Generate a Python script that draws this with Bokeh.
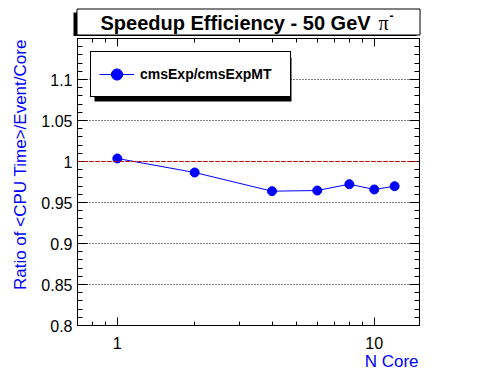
import math
from bokeh.plotting import figure
from bokeh.layouts import column, row
from bokeh.models import (Range1d, FixedTicker, LogAxis, LinearAxis, Span, Label,
                          BoxAnnotation, Legend, LegendItem, Title)
from bokeh.embed import file_html
from bokeh.resources import INLINE

# ---- data ----
n_core = [1, 2, 4, 6, 8, 10, 12]
ratio = [1.0037, 0.9866, 0.9638, 0.9646, 0.9723, 0.9659, 0.9699]
series_name = "cmsExp/cmsExpMT"
title_text = "Speedup Efficiency - 50 GeV"
title_particle = "\u03c0"
title_charge = "-"
x_title = "N Core"
y_title = "Ratio of <CPU Time>/Event/Core"
x_ticks = [1, 10]
x_tick_labels = ["1", "10"]
x_minor_ticks = [0.8, 0.9, 2, 3, 4, 5, 6, 7, 8, 9]
y_ticks = [0.8, 0.85, 0.9, 0.95, 1.0, 1.05, 1.1]
y_tick_labels = ["0.8", "0.85", "0.9", "0.95", "1", "1.05", "1.1"]
y_minor_ticks = [round(0.8 + 0.01 * i, 2) for i in range(36)]
reference_level = 1.0

FONT = "Liberation Sans"
BLUE = "#0000ff"
W, H = 496, 372
TOP_H = 36      # height of the title strip
LEFT_W = 30     # width of the y-title strip


def blank_figure(width, height):
    f = figure(width=width, height=height, x_range=Range1d(0, width), y_range=Range1d(0, height),
               x_axis_location=None, y_axis_location=None, toolbar_location=None,
               output_backend="svg", min_border=0, outline_line_color=None,
               background_fill_color="white", border_fill_color="white")
    f.grid.visible = False
    return f


# ---- title strip (pixel coordinates, y measured from strip bottom) ----
t = blank_figure(W, TOP_H)
t.add_layout(BoxAnnotation(left=73, right=416, bottom=0, top=24,
                           fill_color="black", fill_alpha=1, line_color=None))
t.add_layout(BoxAnnotation(left=76.5, right=419.5, bottom=1.5, top=27.5,
                           fill_color="white", fill_alpha=1,
                           line_color="black", line_width=1, line_alpha=1))
t.add_layout(Label(x=100, y=14, text=title_text,
                   text_font=FONT, text_font_style="bold", text_font_size="20px",
                   text_color="black", text_align="left", text_baseline="alphabetic"))
t.add_layout(Label(x=378, y=14, text=title_particle,
                   text_font="Liberation Serif", text_font_size="20px",
                   text_color="black", text_align="left", text_baseline="alphabetic"))
t.add_layout(Label(x=389, y=21, text=title_charge,
                   text_font=FONT, text_font_style="bold", text_font_size="12px",
                   text_color="black", text_align="left", text_baseline="alphabetic"))

# ---- y-title strip ----
MAIN_H = H - TOP_H
l = blank_figure(LEFT_W, MAIN_H)
l.add_layout(Label(x=19.5, y=MAIN_H - 1, text=y_title, angle=math.pi / 2,
                   text_font=FONT, text_font_size="17px", text_color=BLUE,
                   text_align="right", text_baseline="alphabetic"))

# ---- main plot ----
p = figure(width=W - LEFT_W, height=MAIN_H, x_axis_type="log",
           x_range=Range1d(0.7, 15), y_range=Range1d(0.8, 1.15),
           output_backend="svg", toolbar_location=None,
           min_border_left=77 - LEFT_W, min_border_right=77,
           min_border_top=38 - TOP_H, min_border_bottom=47,
           background_fill_color="white", border_fill_color="white",
           outline_line_color="black")

p.xgrid.visible = False
p.ygrid.ticker = FixedTicker(ticks=y_ticks)
p.ygrid.grid_line_color = "black"
p.ygrid.grid_line_dash = "1 2"
p.ygrid.grid_line_width = 1


def style_axis(ax, major_in, minor_in, font_size="16px"):
    ax.axis_line_color = "black"
    ax.axis_line_width = 1
    ax.major_tick_in = major_in
    ax.major_tick_out = 0
    ax.minor_tick_in = minor_in
    ax.minor_tick_out = 0
    ax.major_tick_line_color = "black"
    ax.minor_tick_line_color = "black"
    ax.major_label_text_font = FONT
    ax.major_label_text_font_size = font_size
    ax.major_label_text_color = "black"


xax = p.xaxis[0]
xax.ticker = FixedTicker(ticks=x_ticks, minor_ticks=x_minor_ticks)
xax.major_label_overrides = dict(zip(x_ticks, x_tick_labels))
style_axis(xax, 8, 4)
xax.major_label_standoff = 11

yax = p.yaxis[0]
yax.ticker = FixedTicker(ticks=y_ticks, minor_ticks=y_minor_ticks)
yax.major_label_overrides = dict(zip(y_ticks, y_tick_labels))
style_axis(yax, 10, 5)
yax.major_label_standoff = 5

top_ax = LogAxis(ticker=FixedTicker(ticks=x_ticks, minor_ticks=x_minor_ticks),
                 major_label_overrides={t_: "" for t_ in x_ticks})
style_axis(top_ax, 8, 4, font_size="0px")
top_ax.major_label_standoff = 0
p.add_layout(top_ax, "above")

right_ax = LinearAxis(ticker=FixedTicker(ticks=y_ticks, minor_ticks=y_minor_ticks),
                      major_label_overrides={t_: "" for t_ in y_ticks})
style_axis(right_ax, 10, 5, font_size="0px")
right_ax.major_label_standoff = 0
p.add_layout(right_ax, "right")

# x title, right-aligned at the end of the axis
p.add_layout(Title(text=x_title, align="right", vertical_align="top", offset=1, standoff=0,
                   text_font=FONT, text_font_size="17px", text_font_style="normal",
                   text_color=BLUE), "below")

# reference line
p.add_layout(Span(location=reference_level, dimension="width", line_color="#d00000",
                  line_dash="4 2", line_width=1))

r_line = p.line(n_core, ratio, line_color=BLUE, line_width=1)
r_pts = p.scatter(n_core, ratio, size=9, fill_color=BLUE, line_color=BLUE)

# legend with shadow
p.add_layout(BoxAnnotation(left=17, right=214, bottom=224, top=268,
                           left_units="screen", right_units="screen",
                           top_units="screen", bottom_units="screen",
                           fill_color="black", fill_alpha=1, line_color=None))
legend = Legend(items=[LegendItem(label=series_name, renderers=[r_line, r_pts])],
                location=(13, 228), margin=0, padding=8,
                glyph_width=35, glyph_height=28, label_height=28, label_width=142,
                label_standoff=6,
                label_text_font=FONT, label_text_font_style="bold",
                label_text_font_size="14px", label_text_color="black",
                border_line_color="black", border_line_width=1, border_line_alpha=1,
                background_fill_color="white", background_fill_alpha=1)
p.add_layout(legend)

layout = column(t, row(l, p, spacing=0), spacing=0)
open("out.html", "w").write(file_html(layout, INLINE))
